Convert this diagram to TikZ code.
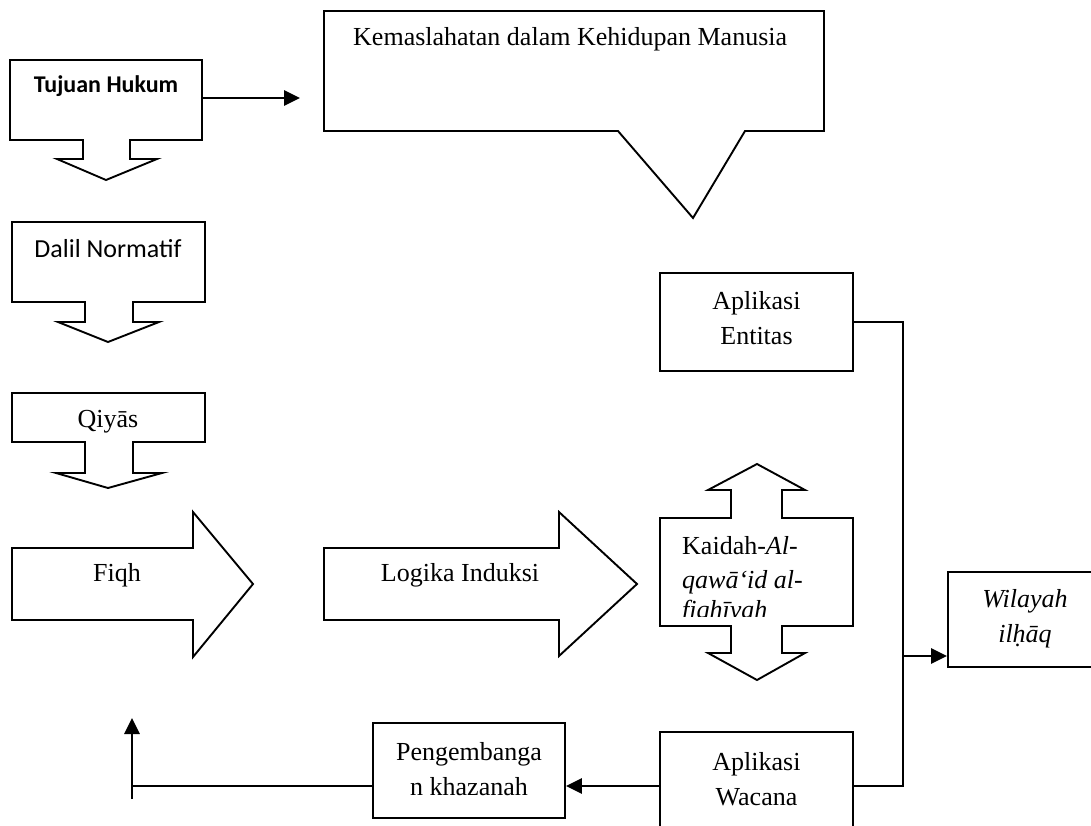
\documentclass[tikz,border=0pt]{standalone}
\usepackage{fontspec}
\setmainfont{Liberation Serif}
\newfontfamily\calibrifont{Carlito}
\usetikzlibrary{arrows.meta}
\newcommand\myfs{\fontsize{26}{35}\selectfont}
\begin{document}
\begin{tikzpicture}[x=1pt,y=-1pt,
  shp/.style={draw=black, line width=1.9pt, fill=white, line join=miter},
  conn/.style={draw=black, line width=2.7pt, line join=miter},
  arr/.style={conn, -{Triangle[length=16pt,width=15pt]}},
  body/.style={rectangle, inner sep=0pt, draw=none},
  boxnode/.style={shp, rectangle, inner sep=0pt},
  txt/.style={inner sep=0pt, font=\myfs, align=center},
  caltxt/.style={inner sep=0pt, font=\calibrifont\fontsize{26}{32}\selectfont, align=center}]
\useasboundingbox (0,0) rectangle (1091,826);
\fill[white] (0,0) rectangle (1091,826);

% callout
\draw[shp] (324,11) -- (824,11) -- (824,131) -- (745,131) -- (693,218) -- (618,131) -- (324,131) -- cycle;
\node[txt, anchor=base west] (kemas) at (353,46) {Kemaslahatan dalam Kehidupan Manusia};

% Tujuan Hukum
\draw[shp] (10,60) -- (202,60) -- (202,140) -- (130,140) -- (130,159) -- (157,159) -- (106,180) -- (57,159) -- (83,159) -- (83,140) -- (10,140) -- cycle;
\node[body, minimum width=192pt, minimum height=80pt] (tujuan) at (106,100) {};
\node[caltxt, font=\calibrifont\bfseries\fontsize{24}{30}\selectfont] (tujuanT) at (106,86) {Tujuan Hukum};
\coordinate (tujuanEnd) at (300,98);
\draw[arr] (tujuan.east |- tujuanEnd) -- (tujuanEnd);

% Dalil Normatif
\draw[shp] (12,222) -- (205,222) -- (205,302) -- (133,302) -- (133,322) -- (159,322) -- (108,342) -- (58,322) -- (85,322) -- (85,302) -- (12,302) -- cycle;
\node[caltxt] (dalil) at (108,249) {Dalil Normatif};

% Qiyas
\draw[shp] (12,393) -- (205,393) -- (205,442) -- (133,442) -- (133,473) -- (162,473) -- (108,488) -- (56,473) -- (85,473) -- (85,442) -- (12,442) -- cycle;
\node[txt] (qiyas) at (108,422) {Qiyās};

% Fiqh arrow
\draw[shp] (12,548) -- (193,548) -- (193,512) -- (253,584) -- (193,657) -- (193,620) -- (12,620) -- cycle;
\node[txt] (fiqh) at (117,575) {Fiqh};

% Logika Induksi arrow
\draw[shp] (324,548) -- (559,548) -- (559,512) -- (637,584) -- (559,656) -- (559,620) -- (324,620) -- cycle;
\node[txt] (logika) at (460,575) {Logika Induksi};

% Kaidah double arrow
\draw[shp] (660,518) -- (731,518) -- (731,490) -- (708,490) -- (757,464) -- (805,490) -- (782,490) -- (782,518) -- (853,518) -- (853,626) -- (782,626) -- (782,653) -- (805,653) -- (757,680) -- (708,653) -- (731,653) -- (731,626) -- (660,626) -- cycle;
\begin{scope}
\clip (661,519) rectangle (852,616);
\node[txt, anchor=base west] (kaidahA) at (682,554) {Kaidah-\textit{Al-}};
\node[txt, anchor=base west] (kaidahB) at (682,588) {\textit{qawā‘id al-}};
\node[txt, anchor=base west] (kaidahC) at (682,618) {\textit{fiqhīyah}};
\end{scope}

% Aplikasi Entitas
\node[boxnode, minimum width=193pt, minimum height=98pt] (entitas) at (756.5,322) {};
\node[txt] (entitasT) at (756.5,318) {Aplikasi\\Entitas};

% Aplikasi Wacana
\node[boxnode, minimum width=193pt, minimum height=108pt] (wacana) at (756.5,786) {};
\node[txt] (wacanaT) at (756.5,779) {Aplikasi\\Wacana};

% Pengembangan khazanah
\node[boxnode, minimum width=192pt, minimum height=95pt] (peng) at (469,770.5) {};
\node[txt] (pengT) at (469,769) {Pengembanga\\n khazanah};

% Wilayah ilhaq
\node[boxnode, minimum width=152pt, minimum height=95pt] (wilayah) at (1024,619.5) {};
\node[txt] (wilayahT) at (1025,619) {\textit{Wilayah}\\\textit{ilḥāq}};

% connectors
\coordinate (junc) at (903,656);
\draw[conn] (entitas.east) -| (junc) |- (wacana.east);
\draw[arr] (junc) -- (junc -| wilayah.west);
\draw[arr] (wacana.west) -- (wacana.west -| peng.east);
\coordinate (ret) at (132,718);
\coordinate (tail) at (132,799);
\coordinate (meet) at (132,786);
\draw[conn] (peng.west |- meet) -- (meet);
\draw[arr] (tail) -- (ret);
\end{tikzpicture}
\end{document}
